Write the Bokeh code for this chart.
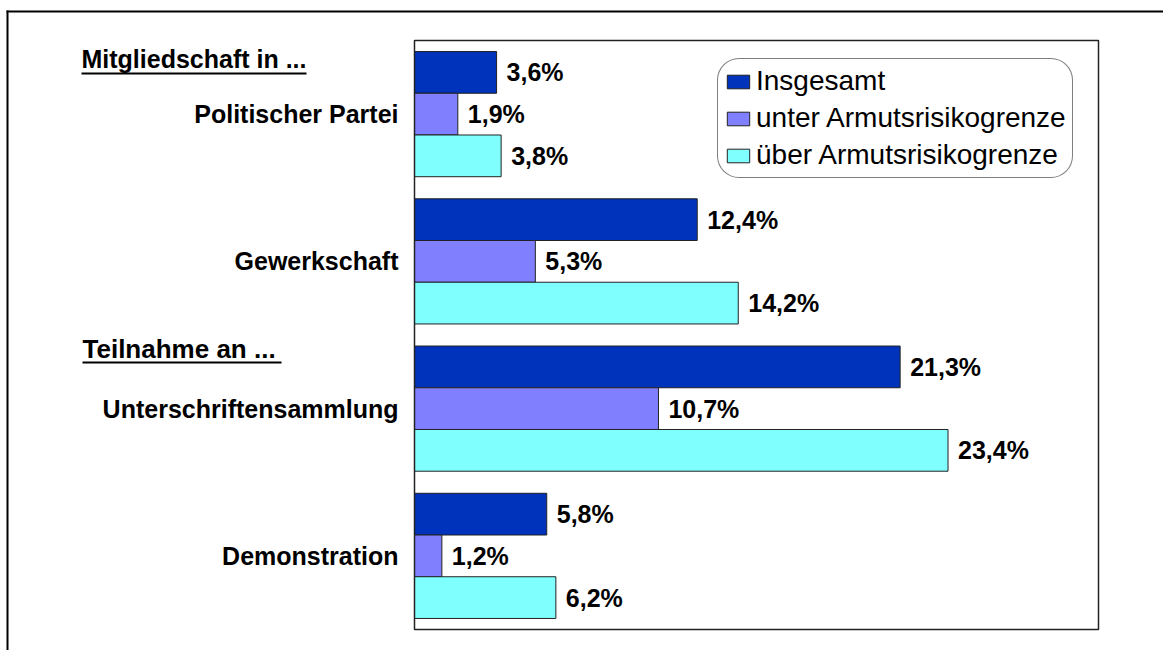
from bokeh.plotting import figure
from bokeh.models import ColumnDataSource, Range1d, Label, BoxAnnotation
from bokeh.transform import dodge
from bokeh.core.properties import value
from bokeh.embed import file_html
from bokeh.resources import INLINE

categories = ["Politischer Partei", "Gewerkschaft", "Unterschriftensammlung", "Demonstration"]
series_names = ["Insgesamt", "unter Armutsrisikogrenze", "über Armutsrisikogrenze"]
insgesamt = [3.6, 12.4, 21.3, 5.8]
unter = [1.9, 5.3, 10.7, 1.2]
ueber = [3.8, 14.2, 23.4, 6.2]
colors = ["#0033BB", "#8080FF", "#80FFFF"]
headings = ["Mitgliedschaft in ...", "Teilnahme an ..."]

FONT = "Liberation Sans"

# layout (pixels): the plotting area of the chart inside the whole canvas
W, H = 1163, 650
FL, FR, FT, FB = 414, 1098, 40, 629
XMAX = 30.0
NCAT = len(categories)


def px_x(px):
    return (px - FL) / (FR - FL) * XMAX


def px_y(py):
    return NCAT - (py - FT) / (FB - FT) * NCAT


def fmt(v):
    return f"{v:.1f}".replace(".", ",") + "%"


src = ColumnDataSource(dict(
    cat=categories,
    yc=[NCAT - i - 0.5 for i in range(NCAT)],
    s0=insgesamt, s1=unter, s2=ueber,
    l0=[fmt(v) for v in insgesamt],
    l1=[fmt(v) for v in unter],
    l2=[fmt(v) for v in ueber],
))

p = figure(width=W, height=H, output_backend="svg", toolbar_location=None,
           x_range=Range1d(px_x(0), px_x(W)), y_range=Range1d(px_y(H), px_y(0)),
           x_axis_location=None, y_axis_location=None,
           min_border=0, min_border_left=0, min_border_right=0, min_border_top=0, min_border_bottom=0)

p.xgrid.visible = False
p.ygrid.visible = False
p.outline_line_color = None
p.background_fill_color = "white"
p.border_fill_color = "white"

# plot area box
p.add_layout(BoxAnnotation(left=0, right=XMAX, bottom=0, top=NCAT, fill_alpha=0,
                           line_color="#222222", line_alpha=1, line_width=1.5))

bh = 0.85 / 3
offsets = [bh, 0.0, -bh]
for i in range(3):
    p.hbar(y=dodge("yc", offsets[i]), left=0, right=f"s{i}", height=bh,
           fill_color=colors[i], line_color="#222222", line_width=1, source=src,
           legend_label=series_names[i])
    p.text(x=f"s{i}", y=dodge("yc", offsets[i]), text=f"l{i}", source=src,
           x_offset=10, text_baseline="middle", text_align="left",
           text_font=value(FONT), text_font_style="bold", text_font_size="25px",
           text_color="black")

# category labels
p.text(x=0, y="yc", text="cat", source=src, x_offset=-16, text_align="right",
       text_baseline="middle", text_font=value(FONT), text_font_style="bold",
       text_font_size="25px", text_color="black")

leg = p.legend[0]
leg.location = (717, H - 178)
leg.margin = 0
leg.padding = 6
leg.spacing = 5
leg.glyph_width = 28
leg.glyph_height = 17
leg.label_height = 30
leg.label_standoff = 4
leg.label_text_font = FONT
leg.label_text_font_size = "28px"
leg.label_text_color = "black"
leg.border_line_color = "black"
leg.border_line_width = 1.5
leg.background_fill_alpha = 1
try:
    leg.border_radius = 22
except Exception:
    pass

# headings
p.add_layout(Label(x=px_x(81), y=px_y(58), text=headings[0],
                   text_font=FONT, text_font_style="bold", text_font_size="25px",
                   text_baseline="alphabetic", text_color="black"))
p.add_layout(Label(x=px_x(82), y=px_y(348), text=headings[1],
                   text_font=FONT, text_font_style="bold", text_font_size="26px",
                   text_baseline="alphabetic", text_color="black"))


def box(l, r, t, b):
    p.add_layout(BoxAnnotation(left=px_x(l), right=px_x(r), top=px_y(t), bottom=px_y(b),
                               fill_color="black", fill_alpha=1, line_color=None, line_alpha=0))


# underlines
box(81, 306, 72, 74)
box(82, 281, 361, 363)
# outer border (left and top)
box(6, 8, 10, 660)
box(6, 1180, 10, 12)

open("out.html", "w").write(file_html(p, INLINE))
